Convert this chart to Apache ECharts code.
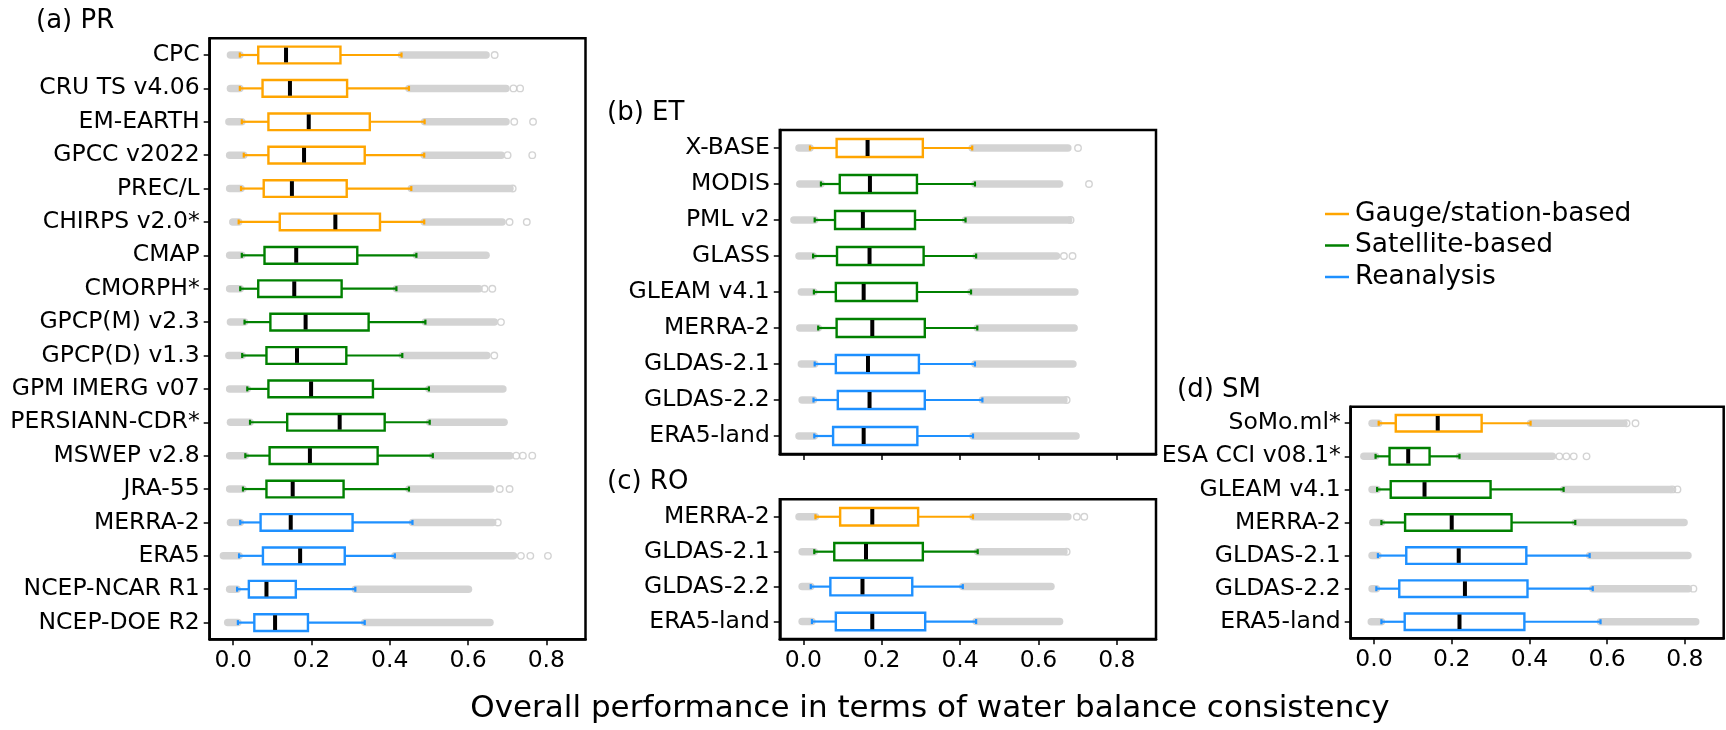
<!DOCTYPE html>
<html>
<head>
<meta charset="utf-8">
<script src="https://cdn.jsdelivr.net/npm/echarts@6/dist/echarts.min.js"></script>
<style>html,body{margin:0;padding:0;background:#fff;}#c{width:1726px;height:730px;}</style>
</head>
<body>
<div id="c"></div>
<script>
// ---------- DATA ----------
const groupNames = ['Gauge/station-based', 'Satellite-based', 'Reanalysis'];
const xTicks = [0.0, 0.2, 0.4, 0.6, 0.8];

// (a) PR
const prNames = ['CPC','CRU TS v4.06','EM-EARTH','GPCC v2022','PREC/L','CHIRPS v2.0*','CMAP','CMORPH*','GPCP(M) v2.3','GPCP(D) v1.3','GPM IMERG v07','PERSIANN-CDR*','MSWEP v2.8','JRA-55','MERRA-2','ERA5','NCEP-NCAR R1','NCEP-DOE R2'];
const prGroup = [0,0,0,0,0,0,1,1,1,1,1,1,1,1,2,2,2,2];
const prLo  = [-0.007,-0.007,-0.011,-0.009,-0.009,-0.001,-0.009,-0.009,-0.007,-0.011,-0.009,-0.007,-0.009,-0.009,-0.007,-0.025,-0.009,-0.014];
const prWlo = [0.017,0.017,0.022,0.027,0.020,0.014,0.022,0.018,0.029,0.023,0.036,0.043,0.031,0.025,0.018,0.015,0.010,0.012];
const prQ1  = [0.064,0.075,0.090,0.090,0.078,0.119,0.080,0.064,0.095,0.085,0.090,0.138,0.093,0.085,0.070,0.076,0.040,0.054];
const prMed = [0.135,0.145,0.193,0.181,0.150,0.261,0.161,0.156,0.185,0.163,0.199,0.272,0.196,0.152,0.147,0.171,0.085,0.107];
const prQ3  = [0.274,0.291,0.349,0.336,0.290,0.375,0.317,0.277,0.346,0.289,0.357,0.387,0.369,0.282,0.305,0.285,0.160,0.191];
const prWhi = [0.430,0.449,0.489,0.488,0.455,0.488,0.468,0.417,0.491,0.432,0.500,0.502,0.510,0.449,0.458,0.413,0.312,0.336];
const prHi  = [0.646,0.697,0.697,0.685,0.707,0.687,0.646,0.628,0.667,0.648,0.689,0.692,0.707,0.658,0.663,0.716,0.601,0.656];
const prFliers = [[0,0.668],[1,0.716],[1,0.733],[2,0.718],[2,0.766],[3,0.701],[3,0.764],[4,0.714],[5,0.706],[5,0.750],[7,0.642],[7,0.662],[8,0.684],[9,0.667],[12,0.723],[12,0.740],[12,0.764],[13,0.681],[13,0.706],[14,0.676],[15,0.735],[15,0.759],[15,0.804]];

// (b) ET
const etNames = ['X-BASE','MODIS','PML v2','GLASS','GLEAM v4.1','MERRA-2','GLDAS-2.1','GLDAS-2.2','ERA5-land'];
const etGroup = [0,1,1,1,1,1,2,2,2];
const etLo  = [-0.011,-0.009,-0.024,-0.011,-0.005,-0.009,-0.005,-0.003,-0.011];
const etWlo = [0.017,0.045,0.029,0.025,0.027,0.038,0.029,0.026,0.028];
const etQ1  = [0.085,0.093,0.081,0.086,0.083,0.085,0.083,0.088,0.076];
const etMed = [0.164,0.170,0.152,0.169,0.154,0.176,0.165,0.169,0.154];
const etQ3  = [0.305,0.290,0.285,0.307,0.290,0.310,0.295,0.310,0.291];
const etWhi = [0.431,0.438,0.414,0.441,0.428,0.444,0.438,0.457,0.433];
const etHi  = [0.675,0.654,0.677,0.646,0.693,0.691,0.688,0.665,0.696];
const etFliers = [[0,0.701],[1,0.729],[2,0.682],[3,0.665],[3,0.687],[7,0.672]];

// (c) RO
const roNames = ['MERRA-2','GLDAS-2.1','GLDAS-2.2','ERA5-land'];
const roGroup = [0,1,2,2];
const roLo  = [-0.011,-0.003,-0.003,-0.003];
const roWlo = [0.031,0.028,0.019,0.022];
const roQ1  = [0.094,0.079,0.069,0.083];
const roMed = [0.176,0.160,0.151,0.176];
const roQ3  = [0.293,0.305,0.278,0.311];
const roWhi = [0.433,0.445,0.407,0.441];
const roHi  = [0.675,0.665,0.632,0.654];
const roFliers = [[0,0.698],[0,0.717],[1,0.672]];

// (d) SM
const smNames = ['SoMo.ml*','ESA CCI v08.1*','GLEAM v4.1','MERRA-2','GLDAS-2.1','GLDAS-2.2','ERA5-land'];
const smGroup = [0,1,1,1,2,2,2];
const smLo  = [-0.005,-0.026,-0.005,-0.003,-0.005,-0.005,-0.007];
const smWlo = [0.012,0.004,0.008,0.019,0.010,0.006,0.019];
const smQ1  = [0.056,0.040,0.043,0.080,0.083,0.065,0.079];
const smMed = [0.164,0.088,0.130,0.200,0.218,0.234,0.220];
const smQ3  = [0.277,0.143,0.300,0.354,0.392,0.395,0.387];
const smWhi = [0.403,0.220,0.488,0.518,0.555,0.563,0.583];
const smHi  = [0.643,0.459,0.763,0.798,0.808,0.809,0.828];
const smFliers = [[0,0.650],[0,0.673],[1,0.477],[1,0.495],[1,0.514],[1,0.547],[2,0.768],[2,0.781],[5,0.822]];

// ---------- STYLE ----------
const COLORS = ['#FFA500', '#008000', '#1E90FF'];
const GRAY = '#d3d3d3';
const FONT = 'DejaVu Sans';

const panels = [
  {names: prNames, g: prGroup, lo: prLo, wlo: prWlo, q1: prQ1, med: prMed, q3: prQ3, whi: prWhi, hi: prHi, fl: prFliers,
   grid: {left: 209.7, top: 38.3, width: 375.8, height: 601}, labels: true},
  {names: etNames, g: etGroup, lo: etLo, wlo: etWlo, q1: etQ1, med: etMed, q3: etQ3, whi: etWhi, hi: etHi, fl: etFliers,
   grid: {left: 779.8, top: 130, width: 376.2, height: 324}, labels: false},
  {names: roNames, g: roGroup, lo: roLo, wlo: roWlo, q1: roQ1, med: roMed, q3: roQ3, whi: roWhi, hi: roHi, fl: roFliers,
   grid: {left: 779.8, top: 499.3, width: 376.2, height: 139.7}, labels: true},
  {names: smNames, g: smGroup, lo: smLo, wlo: smWlo, q1: smQ1, med: smMed, q3: smQ3, whi: smWhi, hi: smHi, fl: smFliers,
   grid: {left: 1350.7, top: 406.7, width: 373, height: 231.6}, labels: true}
];

function renderBox(params, api) {
  const r = api.value(0);
  const X = (i) => api.coord([api.value(i), r])[0];
  const y = api.coord([0, r])[1];
  const h = api.size([0, 1])[1] * 0.5;
  const col = COLORS[api.value(8)];
  const lo = X(1), wlo = X(2), q1 = X(3), med = X(4), q3 = X(5), whi = X(6), hi = X(7);
  const gray = {stroke: GRAY, lineWidth: 7.5, lineCap: 'round'};
  const ws = {stroke: col, lineWidth: 2.2};
  return {type: 'group', children: [
    {type: 'line', shape: {x1: lo, y1: y, x2: wlo, y2: y}, style: gray},
    {type: 'line', shape: {x1: whi, y1: y, x2: hi, y2: y}, style: gray},
    {type: 'line', shape: {x1: wlo, y1: y, x2: q1, y2: y}, style: ws},
    {type: 'line', shape: {x1: q3, y1: y, x2: whi, y2: y}, style: ws},
    {type: 'line', shape: {x1: wlo, y1: y - 2.5, x2: wlo, y2: y + 2.5}, style: ws},
    {type: 'line', shape: {x1: whi, y1: y - 2.5, x2: whi, y2: y + 2.5}, style: ws},
    {type: 'rect', shape: {x: q1, y: y - h / 2, width: q3 - q1, height: h}, style: {fill: '#fff', stroke: col, lineWidth: 2.4}},
    {type: 'line', shape: {x1: med, y1: y - h / 2 + 1, x2: med, y2: y + h / 2 - 1}, style: {stroke: '#000', lineWidth: 4}}
  ]};
}

const grids = [], xAxes = [], yAxes = [], series = [];
panels.forEach((p, i) => {
  grids.push(Object.assign({show: true, borderColor: '#000', borderWidth: 2.5, backgroundColor: '#fff'}, p.grid));
  xAxes.push({
    type: 'value', gridIndex: i, min: -0.06, max: 0.9,
    splitLine: {show: false},
    axisLine: {show: true, onZero: false, lineStyle: {color: '#000', width: 2.5}},
    axisTick: {show: true, length: 6, lineStyle: {color: '#000', width: 1.5}, customValues: xTicks},
    axisLabel: {show: p.labels, customValues: xTicks, formatter: (v) => v.toFixed(1), color: '#000', fontSize: 23.5, fontFamily: FONT, margin: 10}
  });
  yAxes.push({
    type: 'category', gridIndex: i, data: p.names, inverse: true,
    axisLine: {show: true, onZero: false, lineStyle: {color: '#000', width: 2.5}},
    axisTick: {show: true, alignWithLabel: true, length: 6, lineStyle: {color: '#000', width: 1.5}},
    axisLabel: {color: '#000', fontSize: 23.5, fontFamily: FONT, margin: 10},
    splitLine: {show: false}
  });
  const data = p.names.map((n, k) => [k, p.lo[k], p.wlo[k], p.q1[k], p.med[k], p.q3[k], p.whi[k], p.hi[k], p.g[k]]);
  series.push({
    type: 'custom', xAxisIndex: i, yAxisIndex: i, renderItem: renderBox,
    dimensions: ['row', 'lo', 'wlo', 'q1', 'med', 'q3', 'whi', 'hi', 'grp'],
    encode: {x: [1, 2, 3, 4, 5, 6, 7], y: 0},
    data: data, silent: true, z: 2
  });
  series.push({
    type: 'scatter', xAxisIndex: i, yAxisIndex: i,
    data: p.fl.map(f => [f[1], f[0]]),
    symbol: 'circle', symbolSize: 6.5,
    itemStyle: {color: 'rgba(0,0,0,0)', borderColor: '#c8c8c8', borderWidth: 1.4},
    silent: true, z: 1
  });
});

groupNames.forEach((n, i) => {
  series.push({type: 'line', name: n, xAxisIndex: 0, yAxisIndex: 0, data: [], color: COLORS[i], lineStyle: {color: COLORS[i]}});
});

const option = {
  animation: false,
  backgroundColor: '#fff',
  grid: grids, xAxis: xAxes, yAxis: yAxes, series: series,
  legend: {
    orient: 'vertical', left: 1320, top: 195.5,
    data: groupNames.map(n => ({name: n, icon: 'rect'})),
    itemWidth: 24, itemHeight: 2.5, itemGap: 4.5,
    textStyle: {fontSize: 26.5, fontFamily: FONT, color: '#000', lineHeight: 27, padding: [0, 0, 0, 1]},
    selectedMode: false
  },
  graphic: [
    {type: 'text', x: 36, y: 21.5, style: {text: '(a) PR', fontSize: 26, fontFamily: FONT, fill: '#000', verticalAlign: 'middle'}},
    {type: 'text', x: 607, y: 113, style: {text: '(b) ET', fontSize: 26, fontFamily: FONT, fill: '#000', verticalAlign: 'middle'}},
    {type: 'text', x: 607, y: 482.5, style: {text: '(c) RO', fontSize: 26, fontFamily: FONT, fill: '#000', verticalAlign: 'middle'}},
    {type: 'text', x: 1177, y: 390, style: {text: '(d) SM', fontSize: 26, fontFamily: FONT, fill: '#000', verticalAlign: 'middle'}},
    {type: 'text', x: 930, y: 709, style: {text: 'Overall performance in terms of water balance consistency', fontSize: 31, fontFamily: FONT, fill: '#000', align: 'center', verticalAlign: 'middle'}}
  ]
};
const chart = echarts.init(document.getElementById('c'), null, {renderer: 'canvas'});
chart.setOption(option);
</script>
</body>
</html>
